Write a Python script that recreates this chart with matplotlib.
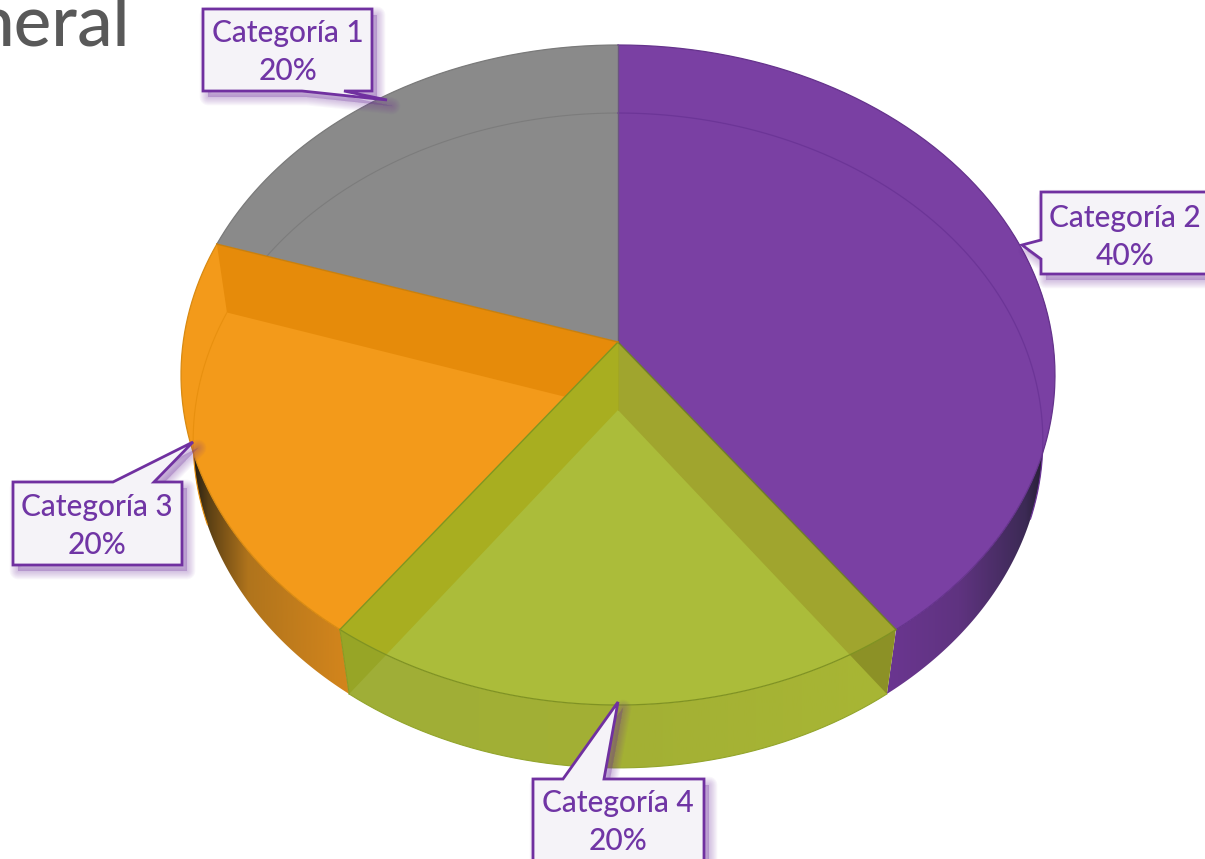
import numpy as np
import matplotlib
matplotlib.use("Agg")
import matplotlib.pyplot as plt
from matplotlib.patches import Polygon
from matplotlib.colors import LinearSegmentedColormap

categories = ["Categoría 1", "Categoría 2", "Categoría 3", "Categoría 4"]
values = [20, 40, 20, 20]
clockwise_order = [0, 1, 3, 2]   # slices run 1, 2, 4, 3 clockwise in the reference
title_fragment = "neral"
START_ANGLE = 288.0   # first slice starts here, clockwise from the top

TOP = dict(cx=618, cy=342, a=434.8, c=326.7, k=0.100)
LOW = dict(cx=618, cy=410, a=423.0, c=324.6, k=0.093)

C_GRAY, C_PURPLE, C_ORANGE, C_GREEN = "#8A8A8A", "#7A40A3", "#F39A1A", "#ABBC3A"
C_LINE = "#7030A0"
C_TEXT = "#7035A5"

plt.rcParams["font.family"] = ["Lato", "DejaVu Sans"]
fig = plt.figure(figsize=(12.05, 8.59), dpi=100)
ax = fig.add_axes([0, 0, 1, 1])
ax.set_xlim(0, 1205)
ax.set_ylim(859, 0)
ax.axis("off")


def pt(theta, g):
    t = np.radians(theta)
    d = 1 + g["k"] * np.cos(t)
    return np.column_stack([g["cx"] + g["a"] * np.sin(t) / d,
                            g["cy"] - g["c"] * np.cos(t) / d])


def arc(t0, t1, g, n=160):
    return pt(np.linspace(t0, t1, n), g)


def apex(g):
    return np.array([[g["cx"], g["cy"]]], float)


def sector(t0, t1, g):
    return np.vstack([apex(g), arc(t0, t1, g)])


def cut(t):
    return np.vstack([pt(np.array([t]), TOP), pt(np.array([t]), LOW), apex(LOW), apex(TOP)])


# slice angles from the values
angle = START_ANGLE
spans = {}
for i in clockwise_order:
    span = values[i] / sum(values) * 360
    spans[i] = (angle % 360, angle % 360 + span)
    angle += span
s_gray, e_gray = spans[0]
s_pur, e_pur = spans[1]
s_org, e_org = spans[2]
s_grn, e_grn = spans[3]


def gradient_wall(t0, t1, xs, cols, x0, x1, z):
    poly = np.vstack([arc(t0, t1, TOP), arc(t1, t0, LOW)])
    patch = Polygon(poly, closed=True, fc="none", ec="none", zorder=z)
    ax.add_patch(patch)
    cmap = LinearSegmentedColormap.from_list("w", list(zip(xs, cols)))
    im = ax.imshow(np.linspace(0, 1, 256).reshape(1, -1), cmap=cmap, aspect="auto",
                   extent=(x0, x1, 859, 0), zorder=z)
    im.set_clip_path(patch)
    return patch


gradient_wall(70, e_pur, [0, .45, .85, 1], ["#6B3691", "#5F3380", "#3C2A55", "#1E1A28"], 885, 1050, 1)
gradient_wall(s_org, 270, [0, .1, .35, 1], ["#1F1A12", "#5A3F14", "#B0741C", "#D5861C"], 192, 352, 1)

# green front wall
wall_g = np.vstack([arc(s_grn, e_grn, TOP), arc(e_grn, s_grn, LOW)])
patch_wall = Polygon(wall_g, closed=True, fc="none", ec="none", zorder=2)
ax.add_patch(patch_wall)
cmap_g = LinearSegmentedColormap.from_list("g", ["#9FAE38", "#A3B034", "#A8B634"])
im_g = ax.imshow(np.linspace(0, 1, 256).reshape(1, -1), cmap=cmap_g, aspect="auto",
                 extent=(340, 895, 859, 0), zorder=2)
im_g.set_clip_path(patch_wall)
ax.add_patch(Polygon(cut(e_grn), closed=True, fc="#97A526", ec="none", zorder=2.1, clip_path=patch_wall))
ax.add_patch(Polygon(cut(s_grn), closed=True, fc="#8C9126", ec="none", zorder=2.1, clip_path=patch_wall))
ax.plot(*arc(s_grn, e_grn, LOW).T, color="#93A52C", lw=0.8, zorder=2.2)

# top faces
face_gray = Polygon(sector(s_gray, e_gray, TOP), closed=True, fc=C_GRAY, ec="none", zorder=3)
face_pur = Polygon(sector(s_pur, e_pur, TOP), closed=True, fc=C_PURPLE, ec="none", zorder=3)
face_org = Polygon(sector(s_org, e_org, TOP), closed=True, fc=C_ORANGE, ec="none", zorder=3)
face_grn = Polygon(sector(s_grn, e_grn, TOP), closed=True, fc=C_GREEN, ec="none", zorder=3)
for f in (face_gray, face_pur, face_org, face_grn):
    ax.add_patch(f)

# translucent inner cut faces
ax.add_patch(Polygon(cut(e_grn), closed=True, fc="#A8AE20", ec="none", zorder=3.1, clip_path=face_grn))
ax.add_patch(Polygon(cut(s_grn), closed=True, fc="#A0A52E", ec="none", zorder=3.1, clip_path=face_grn))
ax.add_patch(Polygon(cut(e_org), closed=True, fc="#E68B0A", ec="none", zorder=3.1, clip_path=face_org))
ax.plot([apex(TOP)[0, 0], apex(LOW)[0, 0]], [apex(TOP)[0, 1], apex(LOW)[0, 1]], color="#A3A822", lw=0.6, zorder=3.15)

# inner arc hints
ax.plot(*arc(s_gray, e_gray, LOW).T, color="#7C7C7C", lw=0.8, zorder=3.2, clip_path=face_gray)
ax.plot(*arc(0, 109, LOW).T, color="#6C3597", lw=0.9, zorder=3.2)
ax.plot(*arc(e_org, 250, LOW).T, color="#E8900F", lw=0.8, zorder=3.2)

# outlines of the top faces
for col, t0, t1 in [("#7A7A7A", s_gray, e_gray), ("#65338C", s_pur, e_pur),
                    ("#D88A12", s_org, e_org), ("#7F9222", s_grn, e_grn)]:
    ax.plot(*arc(t0, t1, TOP).T, color=col, lw=0.9, zorder=3.3)
for t, col in [(s_pur, "#6A5580"), (e_pur, "#6E7C2A"), (e_grn, "#80951F"), (e_org, "#C8800F")]:
    p = np.vstack([apex(TOP), pt(np.array([t]), TOP)])
    ax.plot(p[:, 0], p[:, 1], color=col, lw=1.0, zorder=3.4)
p = np.vstack([pt(np.array([e_grn]), TOP), pt(np.array([e_grn]), LOW)])
ax.plot(p[:, 0], p[:, 1], color="#8A9A24", lw=0.8, zorder=3.4)


def callout(pts, cx, cy, label):
    pts = np.array(pts, float)
    for r in range(8, 0, -1):
        ax.add_patch(Polygon(pts + [5, 6], closed=True, fc=C_LINE, ec=C_LINE, lw=r * 1.5,
                             alpha=0.04, joinstyle="round", zorder=5))
    ax.add_patch(Polygon(pts, closed=True, fc="#F5F3F8", ec=C_LINE, lw=2.0,
                         joinstyle="miter", zorder=6))
    ax.text(cx, cy, label, color=C_TEXT, fontsize=21.5, fontweight="medium", ha="center", va="center",
            linespacing=1.42, zorder=7)


labels = [f"{c}\n{v}%" for c, v in zip(categories, values)]
callout([(203, 9), (372, 9), (372, 91), (344, 91), (387, 100), (302, 91), (203, 91)], 288, 52, labels[0])
callout([(1041, 192), (1212, 192), (1212, 274), (1041, 274), (1041, 259), (1022, 245), (1041, 240)], 1125, 237, labels[1])
callout([(13, 482), (113, 482), (193, 442), (154, 482), (182, 482), (182, 565), (13, 565)], 97, 526, labels[2])
callout([(533, 779), (563, 779), (618, 702), (604, 779), (704, 779), (704, 864), (533, 864)], 618, 822, labels[3])

ax.text(130, 45, title_fragment, color="#595959", fontsize=51, fontweight="medium", ha="right", va="baseline", zorder=8)

ax.set_xlim(0, 1205)
ax.set_ylim(859, 0)
fig.savefig("out.png", dpi=100, facecolor="white")
